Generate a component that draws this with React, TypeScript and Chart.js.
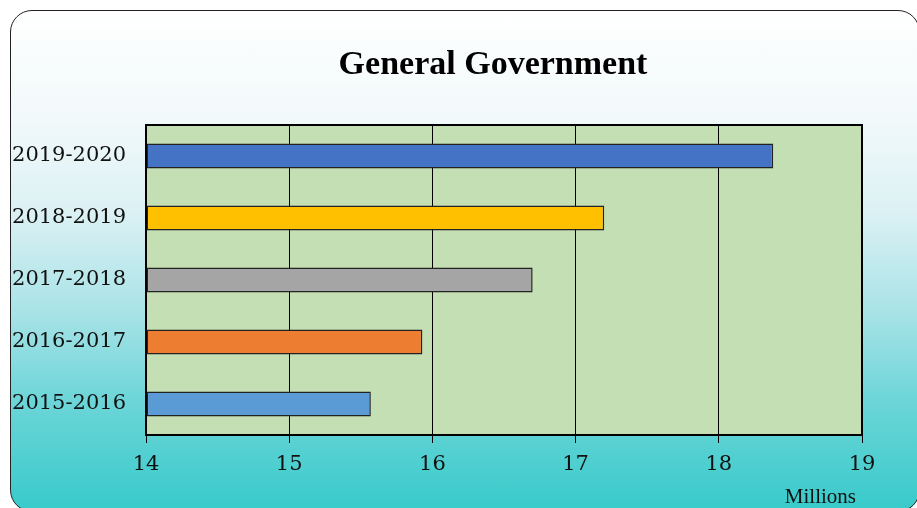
import React, { useEffect, useRef } from "react";
import { Chart, registerables } from "chart.js";

Chart.register(...registerables);

const chartTitle = "General Government";
const unitLabel = "Millions";
const categories = ["2019-2020", "2018-2019", "2017-2018", "2016-2017", "2015-2016"];
const values = [18.38, 17.2, 16.7, 15.93, 15.57];
const barColors = ["#4472C4", "#FFC000", "#A5A5A5", "#ED7D31", "#5B9BD5"];
const axisMin = 14;
const axisMax = 19;
const axisStep = 1;

const W = 917;
const H = 508;

export default function App() {
  const ref = useRef<HTMLCanvasElement | null>(null);

  useEffect(() => {
    document.body.style.margin = "0";
    const canvas = ref.current;
    if (!canvas) return;

    const decor = {
      id: "decor",
      beforeDraw(chart: any) {
        const { ctx, chartArea } = chart;
        ctx.save();
        ctx.fillStyle = "#C4DFB4";
        ctx.fillRect(chartArea.left, chartArea.top, chartArea.right - chartArea.left, chartArea.bottom - chartArea.top);
        ctx.restore();
      },
      afterDraw(chart: any) {
        const { ctx, chartArea } = chart;
        ctx.save();
        ctx.strokeStyle = "#000";
        ctx.lineWidth = 2;
        ctx.strokeRect(chartArea.left, chartArea.top, chartArea.right - chartArea.left, chartArea.bottom - chartArea.top);
        ctx.fillStyle = "#000";
        ctx.textAlign = "center";
        ctx.textBaseline = "middle";
        ctx.font = "bold 34px 'Liberation Serif'";
        ctx.fillText(chartTitle, 493, 65);
        ctx.fillStyle = "#111";
        ctx.font = "21px 'Liberation Serif'";
        ctx.textAlign = "right";
        ctx.fillText(unitLabel, 856, 497);
        ctx.restore();
      },
    };

    const chart = new Chart(canvas, {
      type: "bar",
      data: {
        labels: categories,
        datasets: [
          {
            data: values,
            base: axisMin,
            backgroundColor: barColors,
            borderColor: "#222",
            borderWidth: 1.5,
            borderSkipped: false,
            barPercentage: 0.4,
            categoryPercentage: 1,
          } as any,
        ],
      },
      options: {
        indexAxis: "y",
        animation: false,
        responsive: false,
        maintainAspectRatio: false,
        devicePixelRatio: 1,
        layout: { padding: { top: 125, left: 0, right: 55, bottom: 0 } },
        plugins: { legend: { display: false }, title: { display: false }, tooltip: { enabled: false } },
        scales: {
          x: {
            type: "linear",
            min: axisMin,
            max: axisMax,
            ticks: {
              stepSize: axisStep,
              color: "#111",
              font: { family: "'DejaVu Serif'", size: 21 },
              padding: 9,
            },
            grid: {
              color: "#000",
              lineWidth: 1,
              drawTicks: true,
              tickLength: 8,
              tickColor: "#000",
            },
            border: { display: false },
            afterFit(scale: any) {
              scale.height = H - 435;
            },
          },
          y: {
            type: "category",
            grid: { display: false },
            border: { display: false },
            ticks: {
              color: "#111",
              font: { family: "'DejaVu Serif'", size: 21 },
              padding: 12,
            },
            afterFit(scale: any) {
              scale.width = 146;
            },
          },
        },
      },
      plugins: [decor],
    });

    return () => chart.destroy();
  }, []);

  return (
    <div style={{ position: "relative", width: W, height: H, overflow: "hidden", fontFamily: "'DejaVu Serif'" }}>
      <div
        style={{
          position: "absolute",
          left: 10,
          top: 10,
          width: 910,
          height: 502,
          boxSizing: "border-box",
          border: "1.5px solid #222",
          borderRadius: 22,
          background:
            "linear-gradient(to bottom, #FFFFFF 0%, #F1F9FA 22%, #DCF1F4 40%, #A9E3E7 60%, #6CD5D8 78%, #38CACA 100%)",
        }}
      />
      <canvas ref={ref} width={W} height={H} style={{ position: "absolute", left: 0, top: 0, width: W, height: H }} />
    </div>
  );
}
